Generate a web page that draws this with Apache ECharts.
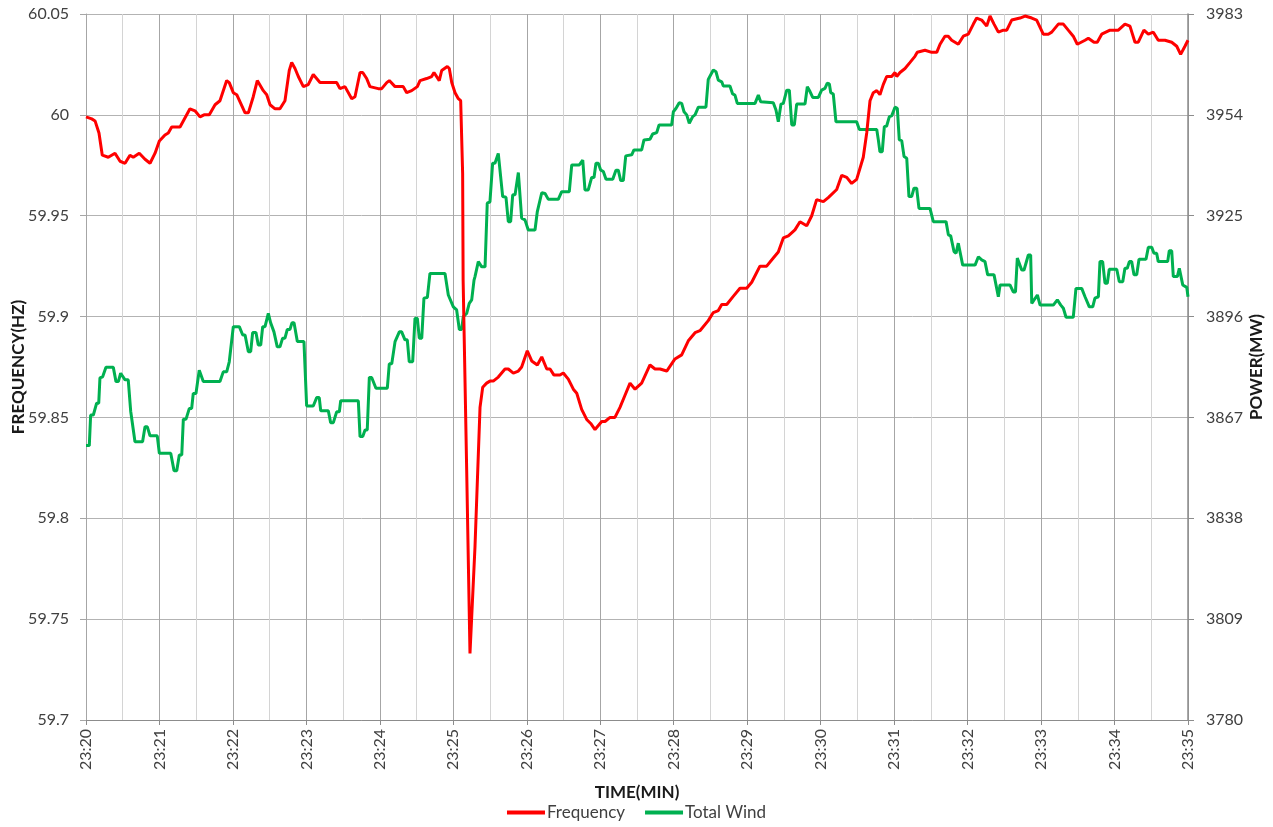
<!DOCTYPE html>
<html>
<head>
<meta charset="utf-8">
<script src="https://cdn.jsdelivr.net/npm/echarts@6/dist/echarts.min.js"></script>
<style>
  html, body { margin: 0; padding: 0; background: #fff; }
  #chart { width: 1273px; height: 827px; }
</style>
</head>
<body>
<div id="chart"></div>
<script>
// seconds after 23:20:00
var freqTime = [0, 4.7, 7.4, 10.6, 13.3, 18.2, 23.7, 27.8, 31.9, 35.9, 38.6, 43.5, 48.2, 52.3, 56.4, 59.9, 64.5, 67.2, 70.0, 76.8,
  84.9, 89.0, 93.1, 96.4, 100.7, 105.4, 109.4, 114.9, 117.0, 120.3, 123.1, 129.9, 132.6, 136.6, 139.9, 144.8, 147.6, 150.3, 154.4, 158.4,
  162.5, 166.0, 168.0, 170.7, 173.4, 177.5, 181.5, 185.6, 191.1, 201.9, 204.7, 207.4, 211.5, 217.0, 219.7, 223.8, 226.0, 229.2, 231.9, 238.7,
  241.5, 245.6, 247.7, 252.4, 259.1, 261.9, 266.0, 270.6, 272.8, 278.2, 282.3, 284.2, 288.5, 290.5, 295.1, 296.7, 298.7, 301.4, 304.1, 306.0,
  307.6, 308.0, 310.9, 313.6, 317.7, 321.8, 324.0, 327.2, 329.9, 332.6, 336.7, 342.2, 344.9, 349.0, 353.1, 355.8, 360.4, 364.0, 368.6, 372.2,
  376.3, 379.0, 382.2, 387.1, 389.8, 393.9, 398.0, 400.8, 404.8, 408.9, 412.2, 415.7, 421.2, 423.9, 428.0, 432.0, 436.1, 440.2, 444.3, 448.4,
  453.8, 460.6, 464.7, 468.8, 474.3, 481.0, 486.5, 491.9, 497.4, 501.4, 508.2, 512.3, 516.4, 519.2, 523.3, 528.6, 534.1, 539.6, 543.7, 550.4,
  555.9, 561.3, 565.4, 569.5, 573.6, 579.0, 583.1, 588.6, 592.7, 596.7, 602.2, 606.2, 613.1, 617.2, 621.3, 625.3, 629.4, 634.8, 637.6, 640.3,
  643.0, 645.8, 648.4, 651.1, 653.9, 658.0, 660.7, 662.1, 664.8, 668.9, 673.0, 677.0, 678.9, 685.2, 690.7, 694.8, 697.5, 701.5, 704.2, 707.0,
  712.4, 716.5, 720.6, 724.7, 727.4, 731.5, 735.6, 738.3, 741.6, 745.1, 749.2, 752.0, 756.0, 762.8, 766.9, 772.4, 776.4, 781.8, 785.9, 788.7,
  794.1, 798.2, 802.2, 806.3, 809.6, 815.9, 818.6, 823.2, 825.9, 829.5, 836.3, 843.1, 848.5, 852.6, 856.7, 859.4, 864.0, 867.6, 871.7, 875.7,
  881.2, 886.7, 890.8, 894.0, 897.5, 900];
var freqHz = [59.999, 59.998, 59.997, 59.991, 59.980, 59.979, 59.981, 59.977, 59.976, 59.980, 59.979, 59.981, 59.978, 59.976, 59.981, 59.987, 59.990, 59.991, 59.994, 59.994,
  60.003, 60.002, 59.999, 60.000, 60.000, 60.005, 60.007, 60.017, 60.016, 60.011, 60.010, 60.001, 60.001, 60.009, 60.017, 60.012, 60.010, 60.005, 60.003, 60.003,
  60.007, 60.022, 60.026, 60.023, 60.019, 60.014, 60.015, 60.020, 60.016, 60.016, 60.016, 60.013, 60.014, 60.008, 60.009, 60.021, 60.021, 60.018, 60.014, 60.013,
  60.013, 60.016, 60.017, 60.014, 60.014, 60.011, 60.012, 60.014, 60.017, 60.018, 60.019, 60.021, 60.017, 60.022, 60.024, 60.023, 60.016, 60.011, 60.008, 60.007,
  59.971, 59.918, 59.824, 59.733, 59.786, 59.855, 59.865, 59.867, 59.868, 59.868, 59.870, 59.874, 59.874, 59.872, 59.873, 59.875, 59.883, 59.878, 59.876, 59.880,
  59.874, 59.874, 59.871, 59.871, 59.872, 59.869, 59.864, 59.862, 59.854, 59.849, 59.847, 59.844, 59.848, 59.848, 59.850, 59.850, 59.855, 59.861, 59.867, 59.864,
  59.867, 59.876, 59.874, 59.874, 59.873, 59.879, 59.881, 59.888, 59.892, 59.893, 59.898, 59.902, 59.903, 59.906, 59.906, 59.910, 59.914, 59.914, 59.917, 59.925,
  59.925, 59.929, 59.932, 59.939, 59.940, 59.943, 59.947, 59.945, 59.950, 59.958, 59.957, 59.959, 59.963, 59.970, 59.969, 59.966, 59.968, 59.979, 59.991, 60.007,
  60.011, 60.012, 60.010, 60.015, 60.019, 60.019, 60.021, 60.019, 60.021, 60.023, 60.026, 60.029, 60.031, 60.032, 60.031, 60.031, 60.035, 60.039, 60.039, 60.037,
  60.035, 60.039, 60.040, 60.045, 60.048, 60.047, 60.044, 60.049, 60.045, 60.041, 60.042, 60.042, 60.047, 60.048, 60.049, 60.048, 60.047, 60.040, 60.040, 60.041,
  60.045, 60.045, 60.042, 60.039, 60.035, 60.037, 60.038, 60.036, 60.036, 60.040, 60.042, 60.042, 60.045, 60.044, 60.036, 60.036, 60.042, 60.040, 60.041, 60.037,
  60.037, 60.036, 60.034, 60.030, 60.034, 60.037];

var windTime = [0, 2.7, 3.8, 6.0, 8.7, 10.4, 11.4, 13.6, 16.3, 22.3, 24.5, 26.4, 28.3, 31.9, 34.5, 36.5, 38.1, 40.0, 46.2, 48.2,
  50.1, 52.3, 58.2, 59.9, 69.2, 71.9, 74.1, 76.2, 78.2, 79.5, 81.7, 84.4, 86.3, 87.6, 89.8, 92.5, 95.8, 109.4, 112.1, 114.9,
  117.0, 118.4, 120.3, 125.2, 128.0, 129.9, 132.6, 134.5, 136.1, 138.8, 140.7, 142.7, 144.3, 146.2, 148.9, 150.8, 153.5, 156.2, 158.4, 160.6,
  162.5, 164.4, 166.6, 168.2, 169.9, 172.6, 178.0, 180.2, 185.6, 188.4, 190.5, 191.7, 197.9, 199.8, 202.0, 204.7, 206.9, 208.0, 222.4, 223.8,
  226.0, 227.9, 229.7, 231.4, 233.3, 236.8, 246.1, 247.7, 249.7, 252.4, 253.7, 255.9, 257.8, 260.5, 262.4, 264.0, 266.8, 268.7, 270.6, 272.2,
  274.2, 276.0, 278.8, 280.9, 293.2, 295.9, 300.0, 302.7, 304.9, 306.8, 308.1, 310.9, 313.0, 315.0, 316.9, 317.7, 320.4, 323.2, 325.9, 327.7,
  329.9, 332.1, 334.0, 336.7, 338.1, 340.3, 343.0, 344.9, 346.8, 348.5, 350.4, 353.1, 355.8, 358.5, 361.2, 366.7, 368.6, 370.2, 372.2, 374.9,
  377.6, 385.7, 388.5, 394.7, 396.7, 402.9, 405.7, 407.5, 410.2, 413.0, 414.9, 416.5, 418.4, 420.4, 422.5, 424.7, 430.2, 432.8, 434.7, 436.7,
  438.8, 440.8, 445.7, 447.5, 453.8, 455.7, 460.6, 462.8, 466.1, 468.0, 478.3, 479.7, 481.9, 484.5, 486.5, 488.4, 490.6, 492.7, 495.5, 497.4,
  500.1, 506.3, 508.2, 512.3, 514.5, 516.4, 519.2, 520.5, 525.9, 528.1, 530.0, 531.9, 546.4, 549.1, 551.0, 561.3, 563.5, 565.4, 567.6, 569.5,
  572.3, 574.4, 576.4, 578.5, 580.4, 587.2, 589.1, 591.3, 593.5, 598.1, 600.8, 603.5, 605.4, 607.1, 608.2, 610.3, 612.5, 629.4, 631.6, 645.8,
  647.1, 648.4, 650.3, 652.0, 653.9, 656.1, 658.0, 660.7, 662.6, 664.2, 666.2, 668.1, 670.3, 672.1, 674.3, 676.2, 678.4, 680.3, 689.3, 692.0,
  702.4, 704.3, 706.2, 708.9, 710.6, 712.4, 713.8, 716.0, 726.1, 728.8, 731.5, 734.2, 736.4, 741.6, 745.1, 746.5, 754.6, 757.3, 759.1, 760.6,
  764.2, 766.1, 769.6, 771.5, 772.4, 773.7, 777.0, 779.2, 790.0, 793.3, 796.1, 798.2, 800.4, 806.3, 808.5, 813.2, 815.9, 819.4, 822.2, 824.0,
  826.8, 828.1, 830.3, 832.2, 834.1, 835.7, 841.8, 843.9, 846.7, 848.5, 850.4, 852.1, 854.0, 855.9, 858.1, 860.0, 865.7, 867.6, 870.4, 872.2,
  874.4, 875.7, 883.4, 884.7, 886.7, 888.0, 891.3, 892.9, 894.0, 895.7, 899.0, 900];
var windMW = [3858.9, 3858.9, 3867.7, 3867.7, 3871.1, 3871.1, 3878.4, 3878.7, 3881.4, 3881.4, 3877.3, 3877.3, 3879.7, 3877.8, 3877.8, 3868.8, 3868.8, 3860.0, 3860.0, 3864.3,
  3864.3, 3861.7, 3861.7, 3856.7, 3856.7, 3851.7, 3851.7, 3856.2, 3856.2, 3866.5, 3866.5, 3869.6, 3869.6, 3873.9, 3873.9, 3880.6, 3877.3, 3877.3, 3880.1, 3880.1,
  3883.0, 3883.5, 3893.1, 3893.1, 3890.7, 3890.7, 3885.9, 3885.9, 3891.4, 3891.4, 3887.8, 3887.8, 3893.1, 3893.1, 3896.9, 3894.2, 3891.6, 3887.3, 3887.3, 3889.8,
  3889.8, 3892.3, 3892.3, 3894.2, 3894.2, 3888.8, 3888.8, 3870.3, 3870.3, 3872.7, 3872.7, 3868.9, 3868.9, 3865.5, 3865.5, 3868.6, 3868.6, 3871.8, 3871.8, 3861.5,
  3861.5, 3863.4, 3863.4, 3878.5, 3878.5, 3875.4, 3875.4, 3882.4, 3882.4, 3888.8, 3888.8, 3891.6, 3891.6, 3889.3, 3889.3, 3883.0, 3883.0, 3895.5, 3895.5, 3889.8,
  3889.8, 3901.3, 3901.5, 3908.4, 3908.4, 3902.2, 3898.8, 3897.9, 3892.3, 3892.3, 3896.0, 3896.9, 3899.8, 3900.8, 3906.5, 3907.5, 3911.8, 3910.3, 3910.3, 3928.6,
  3929.0, 3940.1, 3940.1, 3942.9, 3942.9, 3930.5, 3930.3, 3923.3, 3923.3, 3931.0, 3931.0, 3937.4, 3924.3, 3923.8, 3920.9, 3920.9, 3926.2, 3926.6, 3931.6, 3931.4,
  3929.7, 3929.7, 3931.9, 3931.9, 3939.6, 3939.6, 3941.0, 3932.4, 3932.4, 3936.0, 3936.0, 3940.1, 3940.1, 3938.1, 3937.7, 3935.5, 3935.5, 3938.1, 3938.1, 3935.1,
  3935.1, 3942.2, 3942.5, 3943.9, 3943.9, 3946.8, 3947.0, 3948.5, 3948.9, 3951.1, 3951.1, 3954.9, 3955.9, 3957.5, 3957.3, 3954.9, 3954.0, 3951.6, 3953.5, 3954.0,
  3956.2, 3956.2, 3964.2, 3966.9, 3966.4, 3964.0, 3963.5, 3962.3, 3962.3, 3960.0, 3959.7, 3957.3, 3957.3, 3959.7, 3957.8, 3957.5, 3955.4, 3952.0, 3957.1, 3957.3,
  3961.1, 3961.1, 3951.1, 3951.1, 3957.1, 3957.1, 3962.1, 3960.7, 3959.0, 3959.0, 3961.1, 3961.6, 3963.1, 3962.9, 3960.4, 3960.0, 3952.0, 3952.0, 3949.8, 3949.8,
  3946.8, 3943.4, 3943.4, 3950.6, 3950.8, 3953.5, 3953.7, 3956.2, 3955.9, 3946.8, 3946.6, 3942.0, 3941.5, 3930.5, 3930.5, 3932.9, 3932.9, 3927.1, 3927.1, 3923.3,
  3923.3, 3919.5, 3919.2, 3914.7, 3914.2, 3917.1, 3917.1, 3910.8, 3910.8, 3913.2, 3912.3, 3911.8, 3908.0, 3908.0, 3901.7, 3905.1, 3905.1, 3903.1, 3903.1, 3912.8,
  3909.4, 3909.4, 3913.7, 3913.7, 3899.8, 3899.8, 3902.2, 3899.3, 3899.3, 3900.8, 3899.3, 3898.4, 3895.8, 3895.8, 3904.1, 3904.1, 3901.7, 3898.8, 3898.8, 3901.3,
  3901.7, 3911.8, 3911.8, 3905.6, 3905.6, 3909.6, 3909.6, 3906.0, 3906.0, 3909.9, 3909.9, 3911.8, 3911.8, 3908.0, 3908.0, 3912.5, 3912.5, 3915.9, 3915.9, 3914.2,
  3914.2, 3911.8, 3911.8, 3914.9, 3914.9, 3907.5, 3907.5, 3909.9, 3909.9, 3905.1, 3904.4, 3901.7];

var powerMin = 3780, powerMax = 3983, powerStep = 29;

var chart = echarts.init(document.getElementById('chart'));

var freqData = freqTime.map(function (t, i) { return [t, freqHz[i]]; });
// right axis starts at 3780, which is not a multiple of 29: plot offsets from it
var windData = windTime.map(function (t, i) { return [t, windMW[i] - powerMin]; });

var labelFont = { color: '#404040', fontSize: 16, fontFamily: 'Lato' };
var nameFont = { color: '#1a1a1a', fontSize: 17, fontWeight: 'bold', fontFamily: 'Lato' };

chart.setOption({
  animation: false,
  grid: { left: 86, right: 85, top: 14, bottom: 107, containLabel: false, outerBoundsMode: 'none' },
  legend: {
    bottom: 1,
    left: 'center',
    icon: 'rect',
    itemWidth: 38,
    itemHeight: 4,
    itemGap: 20,
    textStyle: { color: '#404040', fontSize: 17, fontFamily: 'Lato', padding: [0, 0, 0, -3] },
    data: ['Frequency', 'Total Wind']
  },
  xAxis: {
    type: 'value',
    min: 0,
    max: 900,
    interval: 60,
    name: 'TIME(MIN)',
    nameLocation: 'middle',
    nameGap: 64,
    nameMoveOverlap: false,
    nameTextStyle: nameFont,
    axisLine: { lineStyle: { color: '#8c8c8c', width: 1 } },
    axisTick: { show: true, length: 5, lineStyle: { color: '#8c8c8c' } },
    axisLabel: Object.assign({
      rotate: 90,
      margin: 9,
      formatter: function (v) {
        var m = 20 + Math.round(v / 60);
        return '23:' + (m < 10 ? '0' + m : m);
      }
    }, labelFont),
    splitLine: { show: true, lineStyle: { color: '#a6a6a6', width: 1 } },
    minorTick: { show: false, splitNumber: 2 },
    minorSplitLine: { show: true, lineStyle: { color: '#d4d4d4', width: 1 } }
  },
  yAxis: [{
    type: 'value',
    min: 59.7,
    max: 60.05,
    interval: 0.05,
    name: 'FREQUENCY(HZ)',
    nameLocation: 'middle',
    nameGap: 59,
    nameMoveOverlap: false,
    nameTextStyle: nameFont,
    axisLine: { show: true, lineStyle: { color: '#a6a6a6' } },
    axisTick: { show: true, length: 6, lineStyle: { color: '#a6a6a6' } },
    axisLabel: Object.assign({ margin: 17 }, labelFont),
    splitLine: { show: true, lineStyle: { color: '#b3b3b3', width: 1 } }
  }, {
    type: 'value',
    position: 'right',
    min: 0,
    max: powerMax - powerMin,
    interval: powerStep,
    name: 'POWER(MW)',
    nameLocation: 'middle',
    nameGap: 60,
    nameMoveOverlap: false,
    nameTextStyle: nameFont,
    axisLine: { show: true, lineStyle: { color: '#8c8c8c', width: 1.5 } },
    axisTick: { show: true, length: 6, lineStyle: { color: '#8c8c8c' } },
    axisLabel: Object.assign({
      margin: 18,
      formatter: function (v) { return String(v + powerMin); }
    }, labelFont),
    splitLine: { show: false }
  }],
  series: [{
    name: 'Frequency',
    type: 'line',
    yAxisIndex: 0,
    data: freqData,
    showSymbol: false,
    lineStyle: { color: '#ff0000', width: 3 },
    itemStyle: { color: '#ff0000' },
    z: 3
  }, {
    name: 'Total Wind',
    type: 'line',
    yAxisIndex: 1,
    data: windData,
    showSymbol: false,
    lineStyle: { color: '#00b050', width: 3 },
    itemStyle: { color: '#00b050' },
    z: 2
  }]
});
</script>
</body>
</html>
